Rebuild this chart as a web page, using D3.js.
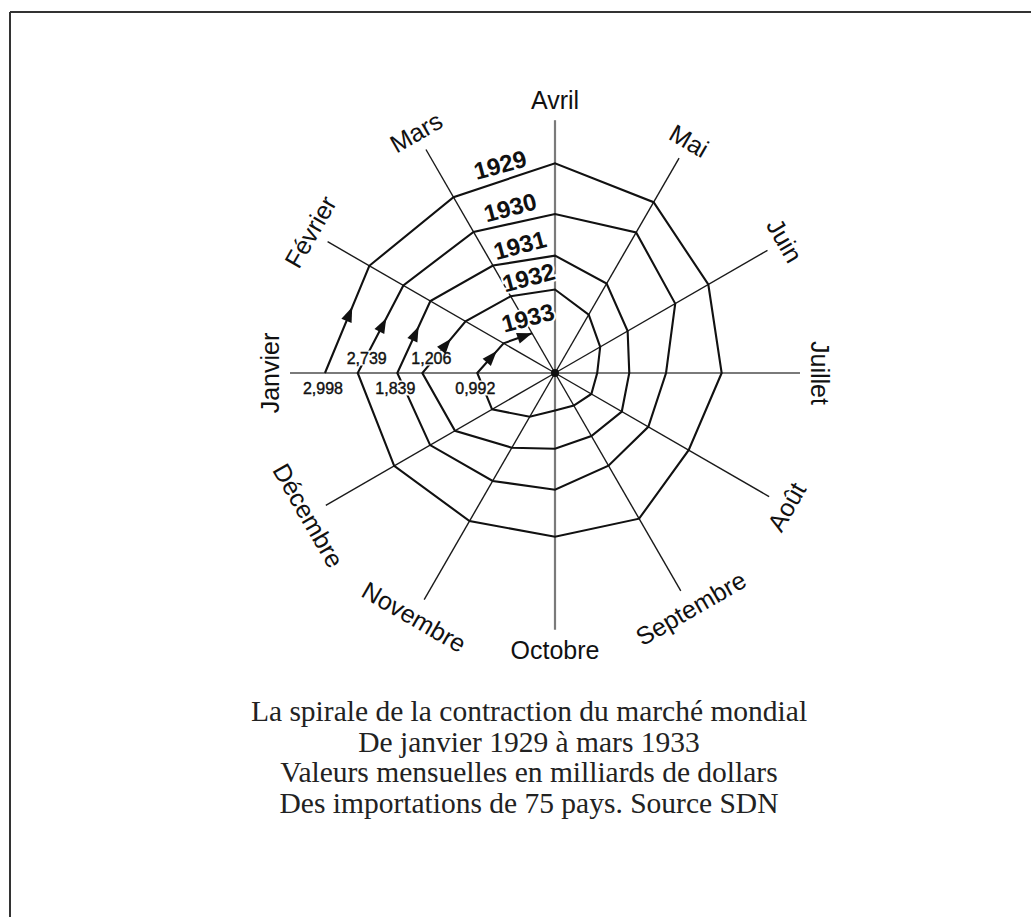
<!DOCTYPE html>
<html>
<head>
<meta charset="utf-8">
<script src="https://cdn.jsdelivr.net/npm/d3@7"></script>
<style>
  body { margin: 0; background: #fff; }
  .frame { stroke: #333; stroke-width: 2; }
  .axis { stroke: #1a1a1a; stroke-width: 1.4; }
  .axis.main { stroke: #7a7a7a; stroke-width: 2.2; }
  .spiral { fill: none; stroke: #111; stroke-width: 2.1; stroke-linejoin: miter; }
  .month { font-family: "Liberation Sans", Arial, sans-serif; font-size: 25px; fill: #111; }
  .year { font-family: "Liberation Sans", Arial, sans-serif; font-size: 24px; font-weight: bold; fill: #111;
          stroke: #fff; stroke-width: 4; paint-order: stroke; }
  .jan-value { font-family: "Liberation Sans", Arial, sans-serif; font-size: 16px; fill: #111;
               stroke: #111; stroke-width: 0.4; }
  .caption { font-family: "Liberation Serif", "Times New Roman", serif; font-size: 29.5px; fill: #222; }
</style>
</head>
<body>
<div id="chart"></div>
<script>
// Data (imports of 75 countries, millions of gold dollars)
const months = ["Janvier", "Février", "Mars", "Avril", "Mai", "Juin", "Juillet", "Août",
  "Septembre", "Octobre", "Novembre", "Décembre"]
const years = [1929, 1930, 1931, 1932, 1933]
const values1929 = [2998, 2794, 2646, 2733, 2570, 2307, 2172, 2011, 2192, 2133, 2228, 2420]
const values1930 = [2571, 2282, 2124, 2072, 2115, 1809, 1447, 1404, 1394, 1522, 1624, 1879]
const values1931 = [2055, 1875, 1617, 1529, 1345, 1093, 968, 1005, 949, 988, 1125, 1505]
const values1932 = [1729, 1346, 1155, 1088, 878, 680, 550, 547, 490, 489, 658, 947]
const values1933 = [1013, 774, 599]
const janLabels = ["2,998", "2,739", "1,839", "1,206", "0,992"]
const captionLines = [
  "La spirale de la contraction du marché mondial",
  "De janvier 1929 à mars 1933",
  "Valeurs mensuelles en milliards de dollars",
  "Des importations de 75 pays. Source SDN"
]

// Dimensions
const width = 1031
const height = 917
const cx = 555
const cy = 373
const maxRadius = 230.2
const axisRadius = 255
const axisShift = [-10, 2]   // the spokes end on a slightly off-centre circle
const labelGap = 20
const arrowLen = 15
const arrowHalf = 5.5

const svg = d3.select("#chart")
  .append("svg")
    .attr("width", width)
    .attr("height", height)

svg.append("line").attr("class", "frame")
  .attr("x1", 10).attr("y1", 12).attr("x2", 10).attr("y2", height)
svg.append("line").attr("class", "frame")
  .attr("x1", 10).attr("y1", 12).attr("x2", width).attr("y2", 12)

const plot = svg.append("g").attr("transform", `translate(${cx},${cy})`)

const r = d3.scaleLinear().domain([0, 3000]).range([0, maxRadius])
// month index -> angle, clockwise from 12 o'clock (janvier on the left)
const angle = d3.scaleLinear().domain([0, 12]).range([1.5 * Math.PI, 3.5 * Math.PI])

const series = [values1929, values1930, values1931, values1932, values1933]
const points = []
series.forEach(function(vals, y) {
  vals.forEach(function(v, m) { points.push({year: years[y], month: m, k: y * 12 + m, value: v}) })
})

// Spokes
function spokeLength(a) {
  let ux = Math.sin(a), uy = -Math.cos(a)
  let ud = ux * axisShift[0] + uy * axisShift[1]
  let dd = axisShift[0] * axisShift[0] + axisShift[1] * axisShift[1]
  return ud + Math.sqrt(ud * ud - dd + axisRadius * axisRadius)
}

plot.selectAll(".axis")
  .data(months)
  .enter().append("line")
    .attr("class", function(d, i) { return i % 3 === 0 ? "axis main" : "axis" })
    .attr("x1", 0).attr("y1", 0)
    .attr("x2", function(d, i) { return d3.pointRadial(angle(i), spokeLength(angle(i)))[0] })
    .attr("y2", function(d, i) { return d3.pointRadial(angle(i), spokeLength(angle(i)))[1] })

plot.selectAll(".month")
  .data(months)
  .enter().append("text")
    .attr("class", "month")
    .attr("text-anchor", "middle")
    .attr("dominant-baseline", "central")
    .attr("transform", function(d, i) {
      let a = angle(i)
      let p = d3.pointRadial(a, spokeLength(a) + labelGap)
      let deg = (a * 180 / Math.PI) % 360
      if (deg > 90 && deg < 270) deg -= 180
      if (deg >= 270) deg -= 360
      return `translate(${p[0]},${p[1]}) rotate(${deg})`
    })
    .text(function(d) { return d })

// Spiral
const spiral = d3.lineRadial()
  .angle(function(d) { return angle(d.k) })
  .radius(function(d) { return r(d.value) })

plot.append("path")
  .datum(points)
  .attr("class", "spiral")
  .attr("d", spiral)

plot.append("circle").attr("r", 4).attr("fill", "#111")

function pos(d) { return d3.pointRadial(angle(d.k), r(d.value)) }

// January values
const janPoints = points.filter(function(d) { return d.month === 0 })
const janText = plot.selectAll(".jan-value")
  .data(janPoints)
  .enter().append("text")
    .attr("class", "jan-value")
    .attr("text-anchor", "middle")
    .attr("dominant-baseline", "central")
    .attr("x", function(d, i) { return pos(d)[0] + (i % 2 ? 9 : -2) })
    .attr("y", function(d, i) { return i % 2 ? -15 : 15 })
    .text(function(d, i) { return janLabels[i] })

janText.each(function() {
  let b = this.getBBox()
  plot.insert("rect", ".jan-value")
    .attr("x", b.x - 2).attr("y", b.y + 1)
    .attr("width", b.width + 4).attr("height", b.height - 2)
    .attr("fill", "#fff")
})

// Arrow heads: on each janvier -> février leg, and at the end of the spiral
const arrows = []
years.forEach(function(yr) {
  let p0 = points.find(function(d) { return d.year === yr && d.month === 0 })
  let p1 = points.find(function(d) { return d.year === yr && d.month === 1 })
  arrows.push({from: pos(p0), to: pos(p1), t: 0.55})
})
arrows.push({from: pos(points[points.length - 2]), to: pos(points[points.length - 1]), t: 1})

plot.selectAll(".arrow")
  .data(arrows)
  .enter().append("path")
    .attr("class", "arrow")
    .attr("fill", "#111")
    .attr("d", function(d) {
      let dx = d.to[0] - d.from[0], dy = d.to[1] - d.from[1]
      let len = Math.sqrt(dx * dx + dy * dy)
      let ux = dx / len, uy = dy / len
      let tip = [d.from[0] + dx * d.t + ux * arrowLen / 2, d.from[1] + dy * d.t + uy * arrowLen / 2]
      if (d.t === 1) tip = d.to
      let base = [tip[0] - ux * arrowLen, tip[1] - uy * arrowLen]
      return `M${tip[0]},${tip[1]}L${base[0] - uy * arrowHalf},${base[1] + ux * arrowHalf}` +
        `L${base[0] + uy * arrowHalf},${base[1] - ux * arrowHalf}Z`
    })

// Year labels above the mars -> avril leg
const tilt = -15 * Math.PI / 180
const yearOffset = 16
plot.selectAll(".year")
  .data(years)
  .enter().append("text")
    .attr("class", "year")
    .attr("text-anchor", "middle")
    .attr("dominant-baseline", "central")
    .attr("transform", function(yr) {
      let mar = points.find(function(d) { return d.year === yr && d.month === 2 })
      let apr = points.find(function(d) { return d.year === yr && d.month === 3 })
      let p = pos(mar)
      if (apr) {
        let q = pos(apr)
        p = [(p[0] + q[0]) / 2, (p[1] + q[1]) / 2]
      }
      let x = p[0] + Math.sin(tilt) * yearOffset
      let y = p[1] - Math.cos(tilt) * yearOffset
      return `translate(${x},${y}) rotate(-15)`
    })
    .text(function(d) { return d })

// Caption
svg.selectAll(".caption")
  .data(captionLines)
  .enter().append("text")
    .attr("class", "caption")
    .attr("text-anchor", "middle")
    .attr("x", 529)
    .attr("y", function(d, i) { return 721 + i * 30.5 })
    .text(function(d) { return d })
</script>
</body>
</html>
